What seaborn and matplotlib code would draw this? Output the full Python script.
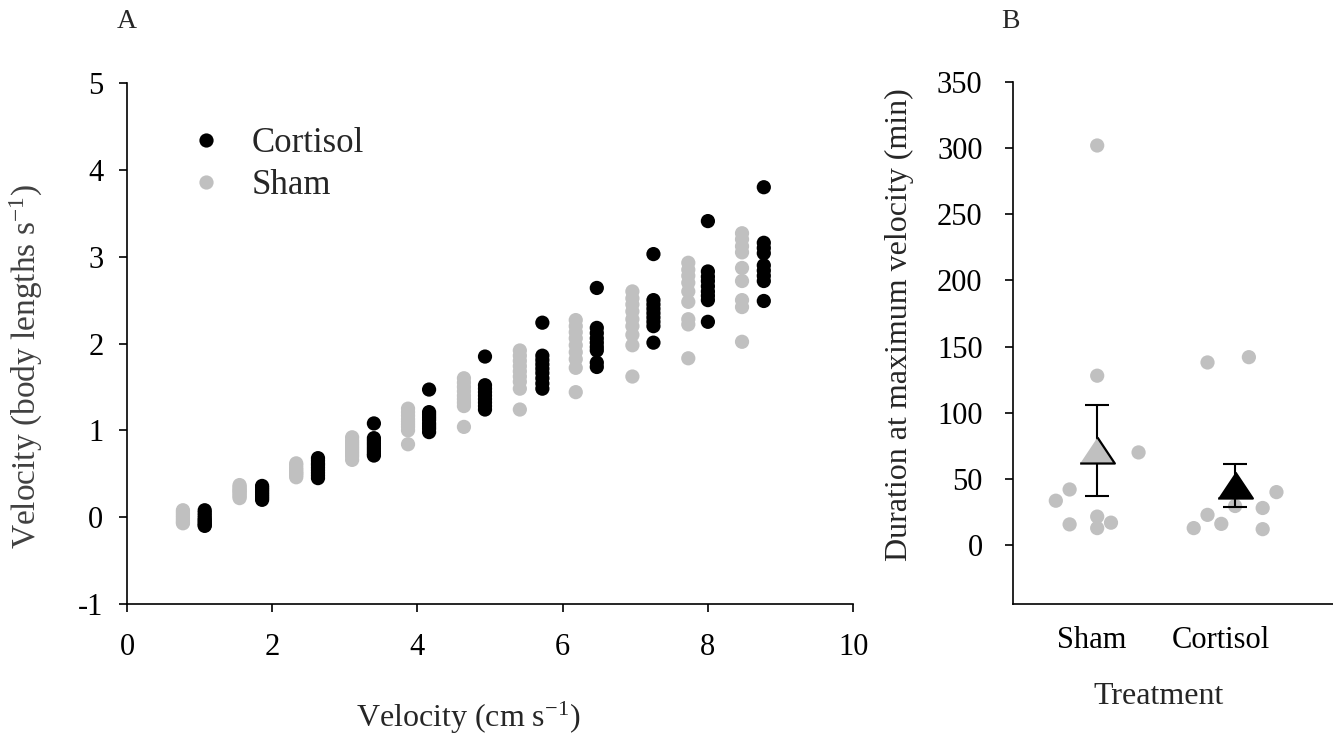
import numpy as np
import pandas as pd
import matplotlib
matplotlib.use("Agg")
import matplotlib.pyplot as plt
import seaborn as sns

# ---------------- Panel A data ----------------
sham_x = [0.77, 1.55, 2.33, 3.10, 3.87, 4.64, 5.41, 6.18, 6.96, 7.73, 8.47]
sham_y = [
    [0.08, 0.06, 0.04, 0.02, 0.00, -0.02, -0.04, -0.06, -0.07],
    [0.37, 0.35, 0.33, 0.31, 0.30, 0.28, 0.26, 0.24, 0.22],
    [0.62, 0.60, 0.57, 0.55, 0.53, 0.51, 0.50, 0.48, 0.46],
    [0.92, 0.88, 0.85, 0.82, 0.79, 0.76, 0.73, 0.70, 0.66],
    [1.25, 1.21, 1.17, 1.13, 1.10, 1.07, 1.04, 1.00, 0.84],
    [1.60, 1.55, 1.50, 1.45, 1.40, 1.36, 1.32, 1.28, 1.04],
    [1.92, 1.86, 1.80, 1.74, 1.68, 1.62, 1.56, 1.48, 1.24],
    [2.27, 2.20, 2.13, 2.06, 1.98, 1.90, 1.82, 1.72, 1.44],
    [2.60, 2.52, 2.45, 2.37, 2.28, 2.20, 2.10, 1.98, 1.62],
    [2.93, 2.85, 2.78, 2.70, 2.60, 2.48, 2.28, 2.22, 1.83],
    [3.27, 3.20, 3.12, 3.05, 2.87, 2.72, 2.50, 2.42, 2.02],
]
cortisol_x = [1.07, 1.86, 2.63, 3.40, 4.16, 4.93, 5.72, 6.47, 7.25, 8.00, 8.77]
cortisol_y = [
    [0.08, 0.05, 0.02, -0.01, -0.03, -0.05, -0.07, -0.09, -0.10],
    [0.36, 0.34, 0.32, 0.30, 0.28, 0.26, 0.24, 0.22, 0.20],
    [0.68, 0.65, 0.62, 0.60, 0.57, 0.54, 0.51, 0.48, 0.45],
    [1.08, 0.91, 0.88, 0.85, 0.82, 0.79, 0.76, 0.73, 0.71],
    [1.47, 1.21, 1.18, 1.15, 1.12, 1.08, 1.05, 1.02, 0.98],
    [1.85, 1.52, 1.48, 1.44, 1.40, 1.36, 1.32, 1.28, 1.24],
    [2.24, 1.86, 1.81, 1.76, 1.71, 1.66, 1.60, 1.54, 1.48],
    [2.64, 2.18, 2.12, 2.06, 2.01, 1.96, 1.92, 1.78, 1.73],
    [3.03, 2.50, 2.45, 2.40, 2.35, 2.30, 2.25, 2.20, 2.01],
    [3.41, 2.83, 2.77, 2.72, 2.66, 2.60, 2.55, 2.50, 2.25],
    [3.80, 3.16, 3.10, 3.04, 2.90, 2.84, 2.78, 2.72, 2.49],
]

# ---------------- Panel B data ----------------
treatments = ["Sham", "Cortisol"]
sham_duration = [302, 128, 70, 42, 33.5, 15.6, 21.5, 12.8, 16.9]
sham_offset = [0.0, 0.0, 0.30, -0.20, -0.30, -0.20, 0.0, 0.0, 0.10]
cortisol_duration = [138, 142, 40, 28, 29.5, 22.8, 16, 12.8, 12]
cortisol_offset = [-0.20, 0.10, 0.30, 0.20, 0.0, -0.20, -0.10, -0.30, 0.20]
mean_duration = [71.5, 45.0]
se_duration = [34.5, 16.0]
mean_colors = ["#c0c0c0", "black"]

GRAY = "#c0c0c0"

sns.set_theme(style="white")
plt.rcParams["font.family"] = ["Liberation Serif", "DejaVu Serif"]
plt.rcParams["mathtext.fontset"] = "custom"
plt.rcParams["mathtext.rm"] = "Liberation Serif"
plt.rcParams["mathtext.it"] = "Liberation Serif:italic"

rows = []
for x, ys in zip(cortisol_x, cortisol_y):
    for y in ys:
        rows.append({"x": x, "y": y, "Treatment": "Cortisol"})
for x, ys in zip(sham_x, sham_y):
    for y in ys:
        rows.append({"x": x, "y": y, "Treatment": "Sham"})
dfA = pd.DataFrame(rows)

rowsB = []
for d, o in zip(sham_duration, sham_offset):
    rowsB.append({"x": 0 + o, "y": d})
for d, o in zip(cortisol_duration, cortisol_offset):
    rowsB.append({"x": 1 + o, "y": d})
dfB = pd.DataFrame(rowsB)

fig = plt.figure(figsize=(13.33, 7.36), dpi=100)
axA = fig.add_axes([0.0953, 0.1793, 0.5447, 0.7079])
axB = fig.add_axes([0.7600, 0.1793, 0.2400, 0.7093])

FS_TICK = 22
FS_LAB = 23

# ---- Panel A ----
sns.scatterplot(data=dfA, x="x", y="y", hue="Treatment",
                hue_order=["Cortisol", "Sham"],
                palette={"Cortisol": "black", "Sham": GRAY},
                s=105, edgecolor="none", linewidth=0, ax=axA, zorder=3)
axA.set_xlim(0, 10)
axA.set_ylim(-1, 5)
axA.set_xticks([0, 2, 4, 6, 8, 10])
axA.set_yticks([-1, 0, 1, 2, 3, 4, 5])
axA.set_xticklabels(["0", "2", "4", "6", "8", "10"])
axA.set_yticklabels(["-1", "0", "1", "2", "3", "4", "5"])
axA.set_xlabel("Velocity (cm s$^{\\mathregular{-1}}$)", fontsize=FS_LAB)
axA.set_ylabel("Velocity (body lengths s$^{\\mathregular{-1}}$)", fontsize=24,
               color="#404040")
axA.xaxis.set_label_coords(0.47, -0.184)
axA.yaxis.set_label_coords(-0.113, 0.455)
handles, labels = axA.get_legend_handles_labels()
axA.legend(handles, labels, frameon=False, fontsize=25, loc="upper left",
           bbox_to_anchor=(0.047, 0.975), handlelength=0.8, handletextpad=0.9,
           labelspacing=0.25, markerscale=1.0)

# ---- Panel B ----
sns.scatterplot(data=dfB, x="x", y="y", color=GRAY, s=105, edgecolor="none",
                linewidth=0, ax=axB, zorder=2)
tri = [(-1, -0.75), (1, -0.75), (0, 0.75)]
for i, (m, e, c) in enumerate(zip(mean_duration, se_duration, mean_colors)):
    axB.errorbar([i], [m], yerr=[e], fmt="none", ecolor="black", elinewidth=1.5,
                 capsize=8.5, capthick=1.5, zorder=4)
    axB.plot([i], [m], marker=tri, markersize=25, markerfacecolor=c,
             markeredgecolor="black", markeredgewidth=1.6, linestyle="none", zorder=5)
axB.set_xlim(-0.61, 1.71)
axB.set_ylim(-44.6, 350)
axB.set_yticks([0, 50, 100, 150, 200, 250, 300, 350])
axB.set_xticks([-0.04, 0.9])
axB.set_xticklabels(treatments)
axB.set_xlabel("Treatment", fontsize=FS_LAB)
axB.set_ylabel("Duration at maximum velocity (min)", fontsize=FS_LAB)
axB.xaxis.set_label_coords(0.455, -0.15)
axB.yaxis.set_label_coords(-0.31, 0.535)

for ax in (axA, axB):
    sns.despine(ax=ax)
    for sp in ("left", "bottom"):
        ax.spines[sp].set_color("black")
        ax.spines[sp].set_linewidth(1.2)
    ax.tick_params(axis="both", labelsize=FS_TICK, colors="black", direction="out",
                   length=6, width=1.2, left=True, bottom=True)
axA.tick_params(axis="y", pad=11)
axA.tick_params(axis="x", pad=15)
axB.tick_params(axis="y", pad=16)
axB.tick_params(axis="x", length=0, pad=16)

fig.text(127 / 1333, 1 - 22 / 736, "A", fontsize=20, ha="center", va="center")
fig.text(1010 / 1333, 1 - 22 / 736, "B", fontsize=20, ha="center", va="center")

fig.savefig("out.png", dpi=100)
